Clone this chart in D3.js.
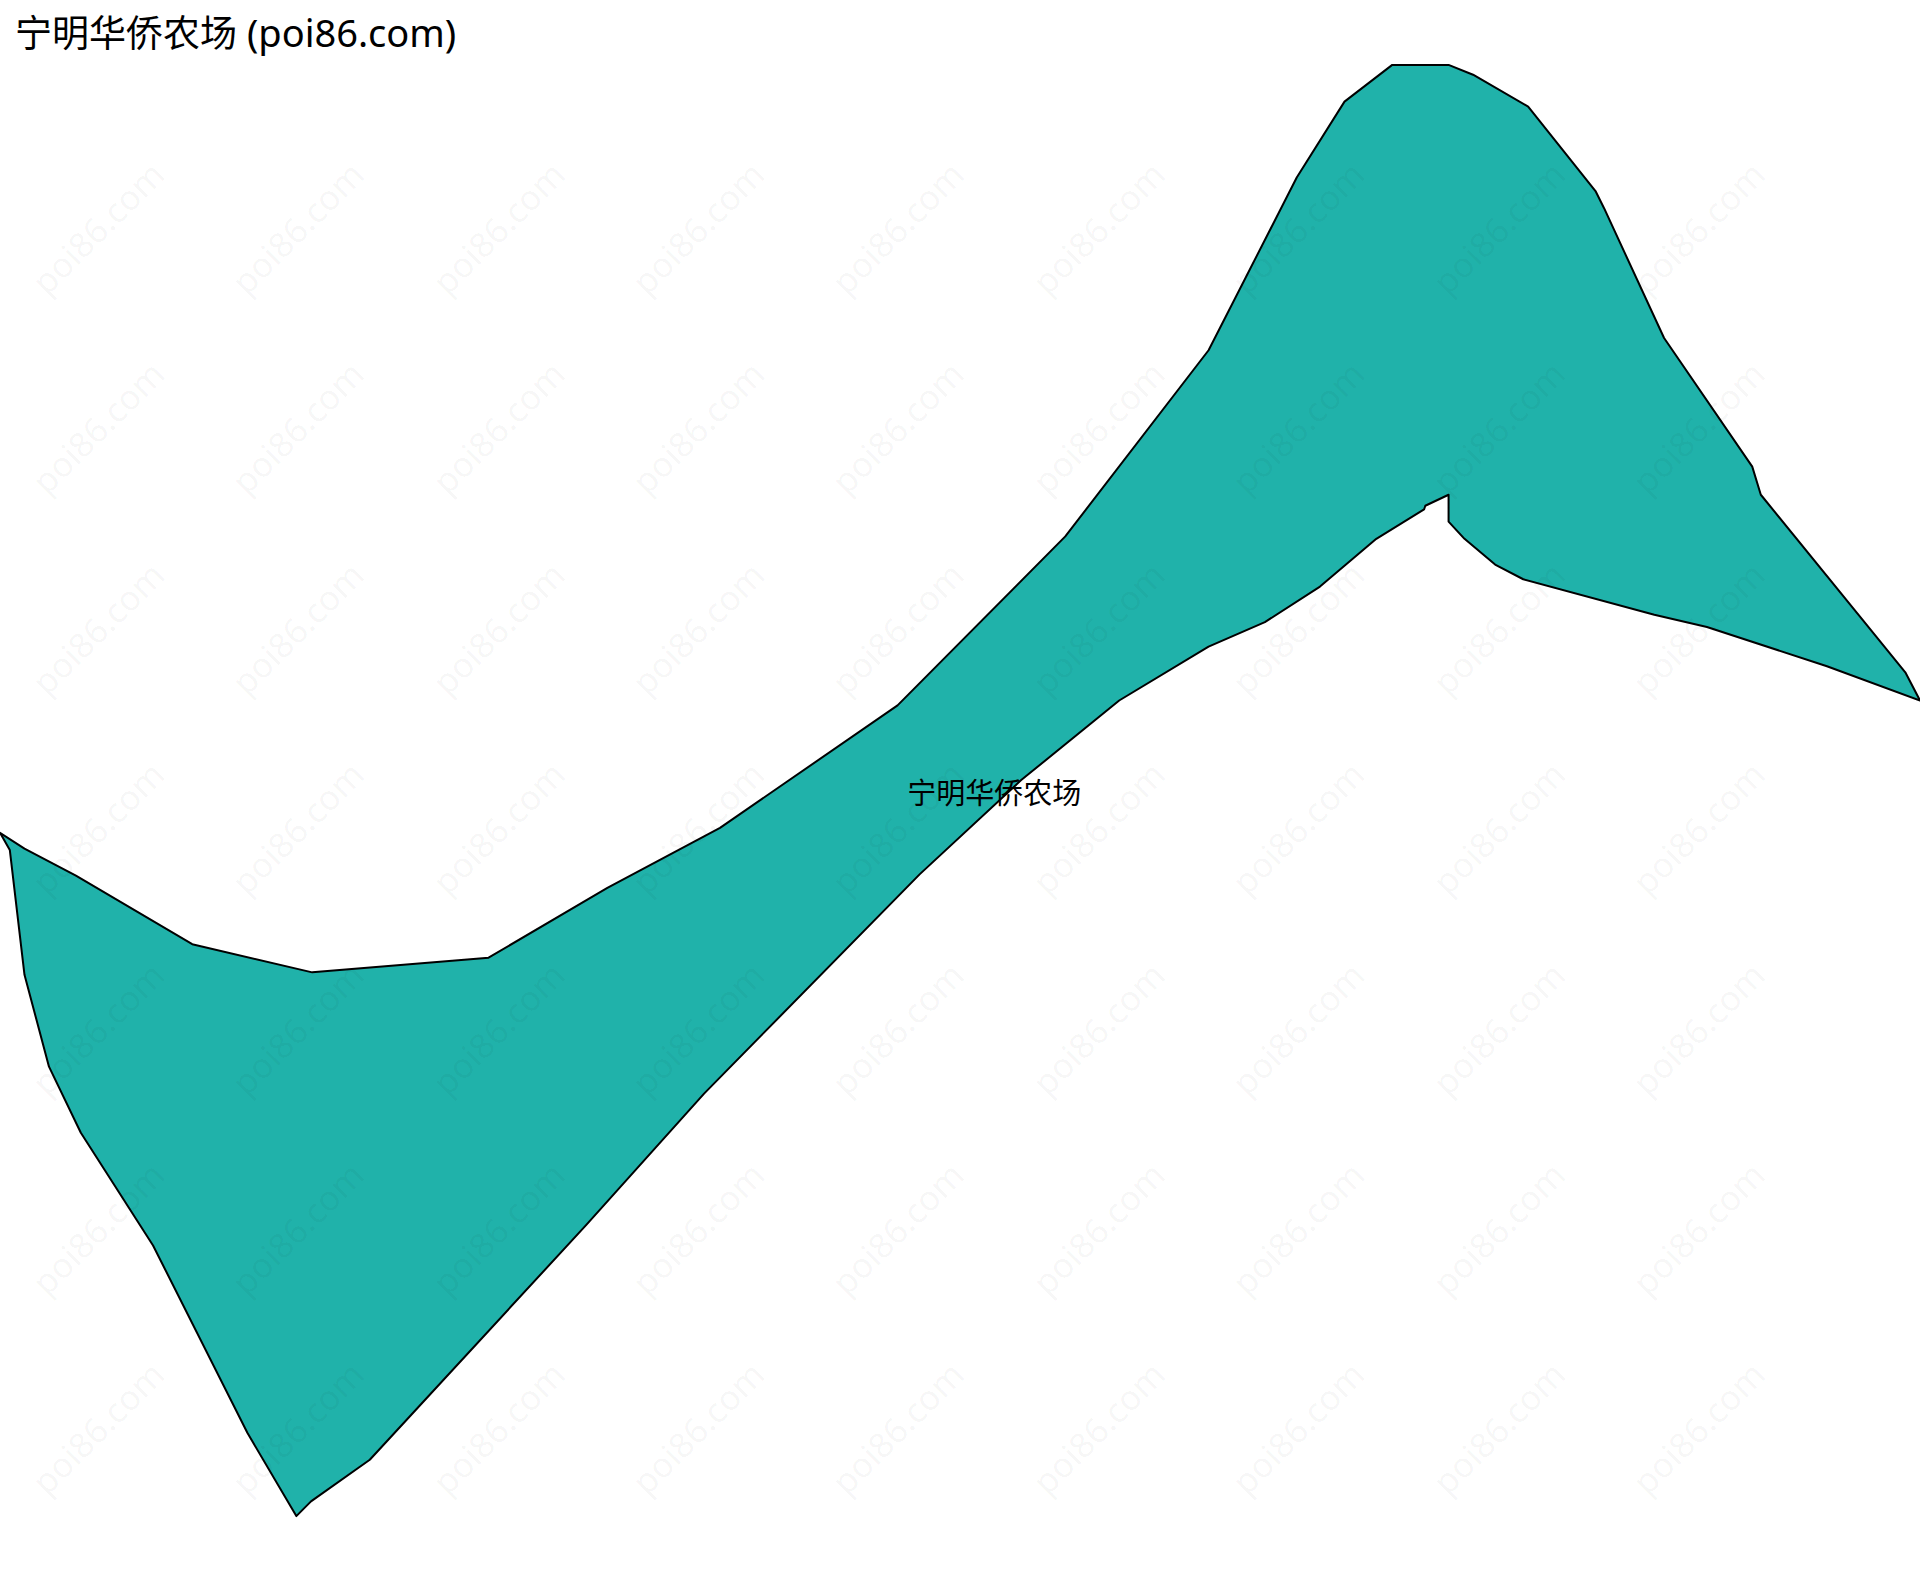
<!DOCTYPE html>
<html>
<head>
<meta charset="utf-8">
<script src="https://cdn.jsdelivr.net/npm/d3@7"></script>
<style>
    html, body { margin: 0; padding: 0; background: #fff; }
    svg { display: block; }
    text { font-family: "Noto Sans", "Noto Sans CJK SC", sans-serif; }
</style>
</head>
<body>
<div id="map"></div>
<script>
const regionName = '宁明华侨农场';
const titleSuffix = ' (poi86.com)';
const watermarkText = 'poi86.com';

// boundary, in map units, clockwise from the flat top
const boundaryX = [1137, 1183, 1203, 1248, 1303, 1310, 1359, 1431, 1438, 1517, 1556, 1568, 1492, 1394, 1351, 1244, 1221, 1196, 1183, 1183, 1164, 1163, 1124, 1078, 1033, 987, 914, 834, 751, 575, 479, 302, 254, 242, 202, 125, 66, 40, 20, 8, 0, 20, 62, 157, 255, 399, 496, 588, 733, 870, 987, 1059, 1098];
const boundaryY = [53, 53, 61, 87, 156, 170, 276, 381, 404, 501, 549, 572, 544, 512, 502, 473, 461, 440, 426, 404, 413, 416, 440, 479, 508, 528, 572, 637, 714, 893, 1000, 1192, 1226, 1238, 1170, 1017, 925, 871, 796, 694, 680, 693, 715, 771, 794, 782, 725, 676, 576, 438, 286, 145, 83];
const labelAt = [812, 650];

const watermarkCols = [82, 245, 409, 572, 735, 899, 1062, 1226, 1389];
const watermarkRows = [188, 351, 515, 678, 842, 1005, 1168];

const props = {
    width: 1920,
    height: 1581,
    fillColor: '#20b2aa',
    lineColor: '#000'
};

const x = d3.scaleLinear().domain([0, 1568]).range([0, props.width]);
const y = d3.scaleLinear().domain([0, 1291]).range([0, props.height]);

const svg = d3.select('#map').append('svg')
    .attr('width', props.width)
    .attr('height', props.height);

const outline = d3.line().x(i => x(boundaryX[i])).y(i => y(boundaryY[i])).curve(d3.curveLinearClosed);

svg.append('path')
    .attr('d', outline(d3.range(boundaryX.length)))
    .attr('fill', props.fillColor)
    .attr('stroke', props.lineColor)
    .attr('stroke-width', 2)
    .attr('stroke-linejoin', 'round');

// faint diagonal watermark over the whole map
const marks = d3.cross(watermarkCols, watermarkRows);
svg.append('g').selectAll('text')
    .data(marks)
    .join('text')
    .attr('transform', d => `translate(${x(d[0])},${y(d[1])}) rotate(-45)`)
    .attr('text-anchor', 'middle')
    .attr('dominant-baseline', 'middle')
    .attr('font-size', 34.5)
    .attr('fill', '#000')
    .attr('fill-opacity', 0.045)
    .text(watermarkText);

svg.append('text')
    .attr('x', x(labelAt[0]))
    .attr('y', y(labelAt[1]))
    .attr('text-anchor', 'middle')
    .attr('dominant-baseline', 'middle')
    .attr('font-size', 29)
    .attr('fill', '#000')
    .text(regionName);

const title = svg.append('text')
    .attr('x', 15)
    .attr('y', 47)
    .attr('fill', '#000')
    .attr('xml:space', 'preserve');
title.append('tspan').attr('font-size', 37).text(regionName);
title.append('tspan').attr('font-size', 38).style('white-space', 'pre').text(titleSuffix);
</script>
</body>
</html>
